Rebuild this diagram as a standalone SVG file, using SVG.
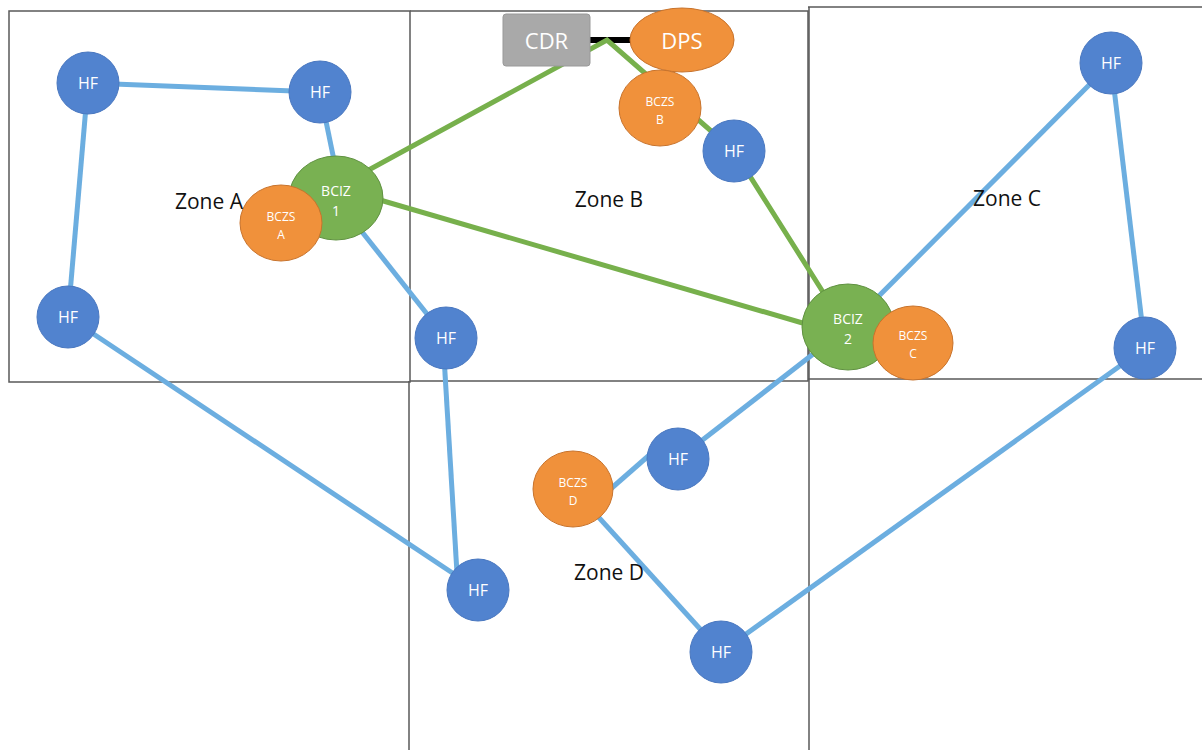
<svg xmlns="http://www.w3.org/2000/svg" width="1202" height="750" viewBox="0 0 1202 750">
  <style>
    .grid { fill: none; stroke: #5a5a5a; stroke-width: 1.5; }
    .blue { stroke: #6caee0; stroke-width: 5; fill: none; stroke-linecap: butt; }
    .green { stroke: #77b04c; stroke-width: 5; fill: none; stroke-linejoin: miter; }
    .hf { fill: #5183cf; stroke: #4a78c0; stroke-width: 1; }
    .bcz { fill: #f0913b; stroke: #c8732c; stroke-width: 1; }
    .bciz { fill: #79b152; stroke: #5f9140; stroke-width: 1; }
    .lbl { font-family: "Open Sans", "Liberation Sans", sans-serif; fill: #ffffff; text-anchor: middle; }
    .zone { font-family: "Open Sans", "Liberation Sans", sans-serif; font-size: 21px; fill: #111111; text-anchor: middle; }
  </style>

  <!-- zone grid -->
  <g id="grid">
    <path class="grid" d="M9,382 V11 H410 V382 Z"/>
    <path class="grid" d="M410,11 H808 V381 H410"/>
    <path class="grid" d="M808,7 H1202 M808,379 H1202"/>
    <path class="grid" d="M409,381 V750 M809,7 V750"/>
  </g>

  <!-- connectors -->
  <g id="connectors">
    <line x1="590" y1="40" x2="634" y2="40" stroke="#000" stroke-width="6"/>
    <polyline class="green" points="365,172 607,40 734,151 828,300"/>
    <line class="green" x1="380" y1="200" x2="806" y2="324"/>

    <line class="blue" x1="88" y1="83" x2="320" y2="92"/>
    <line class="blue" x1="88" y1="83" x2="68" y2="317"/>
    <line class="blue" x1="320" y1="92" x2="336" y2="170"/>
    <line class="blue" x1="336" y1="199" x2="446" y2="338"/>
    <line class="blue" x1="68" y1="317" x2="478" y2="590"/>
    <line class="blue" x1="443" y1="340" x2="458" y2="590"/>
    <line class="blue" x1="848" y1="327" x2="1111" y2="63"/>
    <line class="blue" x1="1111" y1="63" x2="1145" y2="348"/>
    <line class="blue" x1="848" y1="327" x2="678" y2="459"/>
    <line class="blue" x1="598" y1="500" x2="662" y2="444"/>
    <line class="blue" x1="573" y1="489" x2="721" y2="652"/>
    <line class="blue" x1="1145" y1="348" x2="721" y2="652"/>
  </g>

  <!-- upstream nodes -->
  <g id="cdr">
    <rect x="503" y="14" width="87" height="52" rx="3" fill="#a9a9a9" stroke="#999999"/>
    <text class="lbl" x="546.5" y="49" font-size="22" fill="#f2f2f2">CDR</text>
  </g>
  <g id="dps">
    <ellipse class="bcz" cx="682" cy="40" rx="52" ry="32"/>
    <text class="lbl" x="682" y="49" font-size="22">DPS</text>
  </g>

  <!-- zone A -->
  <g id="hf-a1"><circle class="hf" cx="88" cy="83" r="31"/><text class="lbl" x="88" y="89" font-size="16">HF</text></g>
  <g id="hf-a2"><circle class="hf" cx="320" cy="92" r="31"/><text class="lbl" x="320" y="98" font-size="16">HF</text></g>
  <g id="hf-a3"><circle class="hf" cx="68" cy="317" r="31"/><text class="lbl" x="68" y="323" font-size="16">HF</text></g>
  <g id="bciz1">
    <ellipse class="bciz" cx="336" cy="198" rx="47" ry="42"/>
    <text class="lbl" x="336" y="196" font-size="14">BCIZ</text>
    <text class="lbl" x="336" y="216" font-size="14">1</text>
  </g>
  <g id="bczs-a">
    <ellipse class="bcz" cx="281" cy="223" rx="41" ry="38"/>
    <text class="lbl" x="281" y="221" font-size="12">BCZS</text>
    <text class="lbl" x="281" y="239" font-size="12">A</text>
  </g>

  <!-- zone B -->
  <g id="bczs-b">
    <ellipse class="bcz" cx="660" cy="108" rx="41" ry="38"/>
    <text class="lbl" x="660" y="106" font-size="12">BCZS</text>
    <text class="lbl" x="660" y="124" font-size="12">B</text>
  </g>
  <g id="hf-b1"><circle class="hf" cx="734" cy="151" r="31"/><text class="lbl" x="734" y="157" font-size="16">HF</text></g>
  <g id="hf-b2"><circle class="hf" cx="446" cy="338" r="31"/><text class="lbl" x="446" y="344" font-size="16">HF</text></g>

  <!-- zone C -->
  <g id="hf-c1"><circle class="hf" cx="1111" cy="63" r="31"/><text class="lbl" x="1111" y="69" font-size="16">HF</text></g>
  <g id="hf-c2"><circle class="hf" cx="1145" cy="348" r="31"/><text class="lbl" x="1145" y="354" font-size="16">HF</text></g>
  <g id="bciz2">
    <ellipse class="bciz" cx="848" cy="327" rx="46" ry="43"/>
    <text class="lbl" x="848" y="324" font-size="14">BCIZ</text>
    <text class="lbl" x="848" y="344" font-size="14">2</text>
  </g>
  <g id="bczs-c">
    <ellipse class="bcz" cx="913" cy="343" rx="40" ry="37"/>
    <text class="lbl" x="913" y="340" font-size="12">BCZS</text>
    <text class="lbl" x="913" y="358" font-size="12">C</text>
  </g>

  <!-- zone D -->
  <g id="hf-d1"><circle class="hf" cx="678" cy="459" r="31"/><text class="lbl" x="678" y="465" font-size="16">HF</text></g>
  <g id="bczs-d">
    <ellipse class="bcz" cx="573" cy="489" rx="40" ry="38"/>
    <text class="lbl" x="573" y="487" font-size="12">BCZS</text>
    <text class="lbl" x="573" y="505" font-size="12">D</text>
  </g>
  <g id="hf-d2"><circle class="hf" cx="478" cy="590" r="31"/><text class="lbl" x="478" y="596" font-size="16">HF</text></g>
  <g id="hf-d3"><circle class="hf" cx="721" cy="652" r="31"/><text class="lbl" x="721" y="658" font-size="16">HF</text></g>

  <!-- zone names -->
  <g id="zone-labels">
    <text class="zone" x="209" y="209">Zone A</text>
    <text class="zone" x="609" y="207">Zone B</text>
    <text class="zone" x="1007" y="206">Zone C</text>
    <text class="zone" x="609" y="580">Zone D</text>
  </g>
</svg>
